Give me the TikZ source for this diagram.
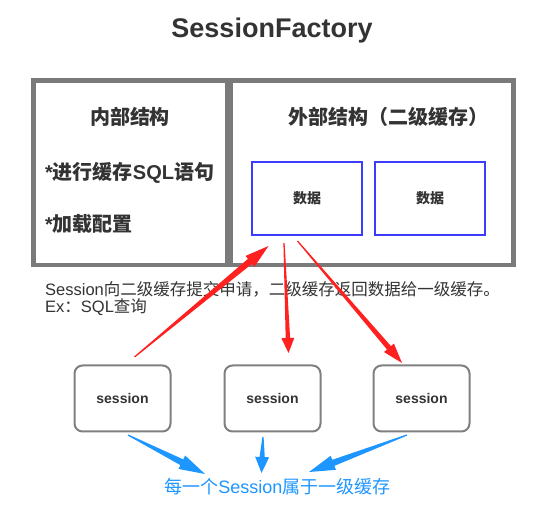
\documentclass[tikz,border=0pt]{standalone}
\usepackage{fontspec}
\setmainfont{Liberation Sans}
\newfontfamily\cjk{Noto Sans CJK SC}
\usetikzlibrary{calc}
\definecolor{framegray}{RGB}{122,122,122}
\definecolor{boxgray}{RGB}{128,128,128}
\definecolor{txtgray}{RGB}{51,51,51}
\definecolor{datablue}{RGB}{60,60,255}
\definecolor{arrred}{RGB}{255,32,32}
\definecolor{arrblue}{RGB}{30,150,255}
\newcommand\taperarrow[6]{%
  \path ($(#2)!#5!(#1)$) coordinate (hb);
  \fill[#3] ($(#1)!0.6pt!90:(#2)$) -- ($(hb)!#4!90:(#2)$) -- ($(hb)!#6!90:(#2)$) -- (#2)
    -- ($(hb)!#6!-90:(#2)$) -- ($(hb)!#4!-90:(#2)$) -- ($(#1)!0.6pt!-90:(#2)$) -- cycle;}
\begin{document}
\begin{tikzpicture}[x=1pt,y=-1pt,
  frame/.style={draw=framegray,line width=4.5pt},
  databox/.style={draw=datablue,line width=1.4pt,minimum width=110pt,minimum height=73pt,font=\cjk\bfseries\fontsize{14}{16}\selectfont,text=txtgray},
  sessbox/.style={draw=boxgray,line width=2pt,rounded corners=8pt,minimum width=96pt,minimum height=66pt,font=\bfseries\fontsize{14}{16}\selectfont,text=txtgray},
  heading/.style={font=\cjk\bfseries\fontsize{20}{24}\selectfont,text=txtgray,inner sep=0pt},
  item/.style={font=\bfseries\fontsize{20}{24}\selectfont,text=txtgray,inner sep=0pt,anchor=west}]
\useasboundingbox (0,0) rectangle (550,513);
\fill[white] (0,0) rectangle (550,513);
% title
\node[font=\bfseries\fontsize{27}{30}\selectfont,text=txtgray] (title) at (272,31) {SessionFactory};
% frames
\draw[frame] (33.5,80.5) rectangle (227,265);
\draw[frame] (231,80.5) rectangle (513.5,265);
\node[heading] (inner) at (130,117) {内部结构};
\node[item] (it1) at (45,173) {*{\cjk 进行缓存}SQL{\cjk 语句}};
\node[item] (it2) at (45,224) {*{\cjk 加载配置}};
\node[heading,anchor=west] (outer) at (288,117) {外部结构（二级缓存）};
\node[databox] (d1) at (307,198.5) {数据};
\node[databox] (d2) at (430,198.5) {数据};
% note text
\node[anchor=west,inner sep=0pt,text=txtgray,font=\fontsize{16.5}{18}\selectfont] (note1) at (45,289) {Session{\cjk 向二级缓存提交申请，二级缓存返回数据给一级缓存。}};
\node[anchor=west,inner sep=0pt,text=txtgray,font=\fontsize{16.5}{18}\selectfont] (note2) at (45,307) {Ex{\cjk ：}SQL{\cjk 查询}};
% sessions
\node[sessbox] (s1) at (122.5,398.5) {session};
\node[sessbox] (s2) at (272.5,398.5) {session};
\node[sessbox] (s3) at (421.5,398.5) {session};
% bottom text
\node[text=arrblue,inner sep=0pt,font=\fontsize{18}{20}\selectfont] (belong) at (277.5,487) {{\cjk 每一个}Session{\cjk 属于一级缓存}};
% arrow end points
\coordinate (r1s) at (134.5,357);
\coordinate (r1e) at (268.5,246);
\coordinate (r2s) at (284,243);
\coordinate (r2e) at (288.5,353);
\coordinate (r3s) at (297.5,241);
\coordinate (r3e) at (402,363);
\coordinate (b1s) at (128,435);
\coordinate (b1e) at (205,474);
\coordinate (b2s) at (263,437);
\coordinate (b2e) at (261.5,473);
\coordinate (b3s) at (407,435);
\coordinate (b3e) at (309,472);
% red arrows
\taperarrow{r1s}{r1e}{arrred}{3.2pt}{24pt}{7pt}
\taperarrow{r2s}{r2e}{arrred}{2.2pt}{15pt}{6.5pt}
\taperarrow{r3s}{r3e}{arrred}{2.6pt}{20pt}{6.5pt}
% blue arrows
\taperarrow{b1s}{b1e}{arrblue}{3.2pt}{26pt}{7.5pt}
\taperarrow{b2s}{b2e}{arrblue}{2.6pt}{16pt}{7pt}
\taperarrow{b3s}{b3e}{arrblue}{3.2pt}{26pt}{7.5pt}
\end{tikzpicture}
\end{document}
